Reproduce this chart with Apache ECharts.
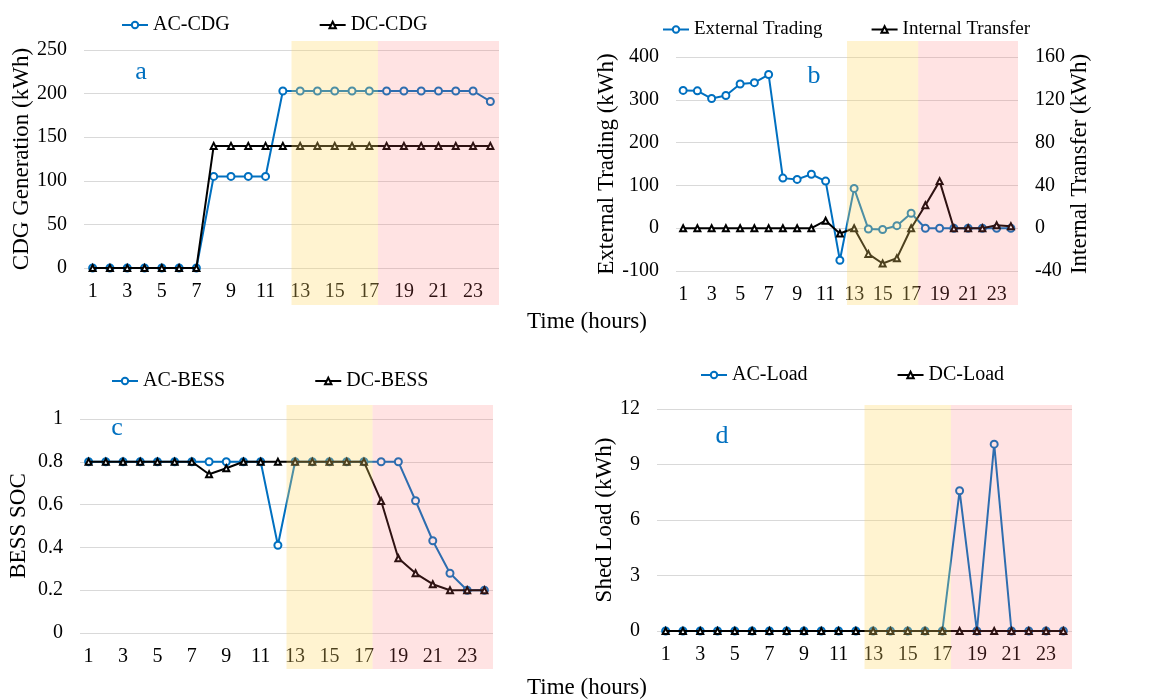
<!DOCTYPE html>
<html>
<head>
<meta charset="utf-8">
<script src="https://cdn.jsdelivr.net/npm/echarts@6/dist/echarts.min.js"></script>
<style>
  html, body { margin: 0; padding: 0; background: #fff; }
  #chart { width: 1149px; height: 700px; }
</style>
</head>
<body>
<div id="chart"></div>
<script>
  // hours 1..24
  var hours = [];
  for (var h = 1; h <= 24; h++) hours.push(String(h));

  // (a) CDG generation, kWh
  var acCdg = [0, 0, 0, 0, 0, 0, 0, 105, 105, 105, 105, 203, 203, 203, 203, 203, 203, 203, 203, 203, 203, 203, 203, 191];
  var dcCdg = [0, 0, 0, 0, 0, 0, 0, 140, 140, 140, 140, 140, 140, 140, 140, 140, 140, 140, 140, 140, 140, 140, 140, 140];

  // (b) external trading (left axis) / internal transfer (right axis), kWh
  var extTrading = [322, 321, 303, 310, 337, 340, 359, 117, 114, 126, 110, -75, 93, -2, -3, 6, 35, 0, 0, 0, 0, 0, 0, 0];
  var intTransfer = [0, 0, 0, 0, 0, 0, 0, 0, 0, 0, 7, -5, 0, -24, -33, -28, 0, 21.5, 44, 0, 0, 0, 2.8, 1.9];

  // (c) BESS state of charge
  var acBess = [0.8, 0.8, 0.8, 0.8, 0.8, 0.8, 0.8, 0.8, 0.8, 0.8, 0.8, 0.41, 0.8, 0.8, 0.8, 0.8, 0.8, 0.8, 0.8, 0.618, 0.431, 0.279, 0.2, 0.2];
  var dcBess = [0.8, 0.8, 0.8, 0.8, 0.8, 0.8, 0.8, 0.742, 0.77, 0.8, 0.8, 0.8, 0.8, 0.8, 0.8, 0.8, 0.8, 0.617, 0.349, 0.279, 0.228, 0.2, 0.2, 0.2];

  // (d) shed load, kWh
  var acLoad = [0, 0, 0, 0, 0, 0, 0, 0, 0, 0, 0, 0, 0, 0, 0, 0, 0, 7.58, 0, 10.1, 0, 0, 0, 0];
  var dcLoad = [0, 0, 0, 0, 0, 0, 0, 0, 0, 0, 0, 0, 0, 0, 0, 0, 0, 0, 0, 0, 0, 0, 0, 0];

  // shaded periods, in hours from start of day
  var shadeBands = [[12, 17], [17, 24]];
  var shadeColors = ['rgba(255,215,100,0.3)', 'rgba(255,100,100,0.18)'];

  var FONT = 'Liberation Serif, Times New Roman, serif';
  var BLUE = '#0070C0';

  var chart = echarts.init(document.getElementById('chart'));

  // plot areas (px) of the four panels
  var panels = [
    {left: 84, top: 50, width: 415, height: 218},
    {left: 676, top: 57, width: 342, height: 214},
    {left: 80, top: 419, width: 413, height: 214},
    {left: 657, top: 409, width: 415, height: 222}
  ];
  // shading boxes reach past the plot area, over the tick labels
  var shadeBoxes = [
    {left: 84, top: 41, width: 415, height: 264},
    {left: 676, top: 41, width: 342, height: 264},
    {left: 80, top: 405, width: 413, height: 264},
    {left: 657, top: 405, width: 415, height: 264}
  ];

  var grids = panels.concat(shadeBoxes);

  function catAxis(i) {
    return {
      type: 'category', gridIndex: i, data: hours, boundaryGap: true,
      axisLine: {show: false}, axisTick: {show: false},
      axisLabel: {interval: 1, fontSize: 20, color: '#000', margin: 14, fontFamily: FONT},
      splitLine: {show: false}
    };
  }
  function valAxis(i, min, max, step, name, gap, pos) {
    return {
      type: 'value', gridIndex: i, min: min, max: max, interval: step, position: pos || 'left',
      name: name, nameLocation: 'middle', nameGap: gap,
      nameTextStyle: {fontSize: 23, color: '#000', fontFamily: FONT},
      axisLine: {show: false}, axisTick: {show: false},
      axisLabel: {fontSize: 20, color: '#000', margin: 17, fontFamily: FONT},
      splitLine: {show: pos !== 'right', lineStyle: {color: '#d9d9d9', width: 1}}
    };
  }

  var xAxes = [catAxis(0), catAxis(1), catAxis(2), catAxis(3)];
  var yAxes = [
    valAxis(0, 0, 250, 50, 'CDG Generation (kWh)', 50),
    valAxis(1, -100, 400, 100, 'External Trading (kWh)', 50),
    valAxis(1, -40, 160, 40, 'Internal Transfer (kWh)', 50, 'right'),
    valAxis(2, 0, 1, 0.2, 'BESS SOC', 50),
    valAxis(3, 0, 12, 3, 'Shed Load (kWh)', 38)
  ];
  for (var k = 0; k < 4; k++) {
    xAxes.push({type: 'value', gridIndex: 4 + k, min: 0, max: 24, show: false});
    yAxes.push({type: 'value', gridIndex: 4 + k, min: 0, max: 1, show: false});
  }

  function lineSeries(name, data, xi, yi, dc) {
    return {
      name: name, type: 'line', data: data, xAxisIndex: xi, yAxisIndex: yi,
      symbol: dc ? 'emptyTriangle' : 'emptyCircle', symbolSize: dc ? 6 : 7,
      lineStyle: {color: dc ? '#000' : BLUE, width: 2},
      itemStyle: {color: dc ? '#000' : BLUE, borderWidth: 1.5},
      z: dc ? 4 : 3, animation: false
    };
  }

  var series = [
    lineSeries('AC-CDG', acCdg, 0, 0, false),
    lineSeries('DC-CDG', dcCdg, 0, 0, true),
    lineSeries('External Trading', extTrading, 1, 1, false),
    lineSeries('Internal Transfer', intTransfer, 1, 2, true),
    lineSeries('AC-BESS', acBess, 2, 3, false),
    lineSeries('DC-BESS', dcBess, 2, 3, true),
    lineSeries('AC-Load', acLoad, 3, 4, false),
    lineSeries('DC-Load', dcLoad, 3, 4, true)
  ];

  for (var s = 0; s < 4; s++) {
    series.push({
      type: 'custom', xAxisIndex: 4 + s, yAxisIndex: 5 + s, data: shadeBands,
      silent: true, z: 10, animation: false,
      renderItem: function (params, api) {
        var p0 = api.coord([api.value(0), 1]);
        var p1 = api.coord([api.value(1), 0]);
        return {
          type: 'rect',
          shape: {x: p0[0], y: p0[1], width: p1[0] - p0[0], height: p1[1] - p0[1]},
          style: {fill: shadeColors[params.dataIndex]}
        };
      }
    });
  }

  function legend(names, left, top, gap, size) {
    return {
      data: names, left: left, top: top, itemGap: gap, itemWidth: 26, itemHeight: 8,
      textStyle: {fontSize: size, color: '#000', fontFamily: FONT}
    };
  }

  function label(text, x, y, size, color) {
    return {
      type: 'text', x: x, y: y, z: 20,
      style: {text: text, fontSize: size, fill: color, fontFamily: FONT, align: 'center', verticalAlign: 'middle'}
    };
  }

  chart.setOption({
    animation: false,
    textStyle: {fontFamily: FONT},
    grid: grids,
    xAxis: xAxes,
    yAxis: yAxes,
    legend: [
      legend(['AC-CDG', 'DC-CDG'], 116, 10, 89, 20),
      legend(['External Trading', 'Internal Transfer'], 657, 15, 48, 19),
      legend(['AC-BESS', 'DC-BESS'], 106, 366, 89, 20),
      legend(['AC-Load', 'DC-Load'], 695, 360, 89, 20)
    ],
    graphic: [
      label('a', 141, 72, 26, BLUE),
      label('b', 814, 76, 26, BLUE),
      label('c', 117, 428, 26, BLUE),
      label('d', 722, 436, 26, BLUE),
      label('Time (hours)', 587, 322, 23, '#000'),
      label('Time (hours)', 587, 688, 23, '#000')
    ],
    series: series
  });
</script>
</body>
</html>
